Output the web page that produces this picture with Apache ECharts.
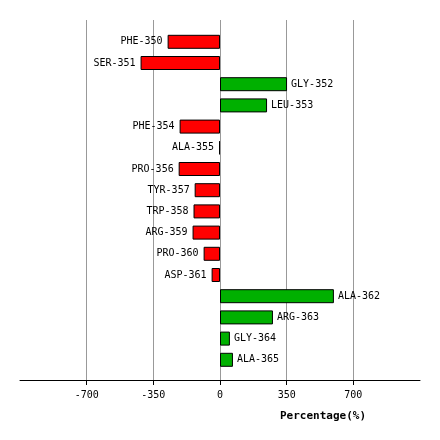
<!DOCTYPE html>
<html><head><meta charset="utf-8">
<script src="https://cdn.jsdelivr.net/npm/echarts@6/dist/echarts.min.js"></script>
<style>html,body{margin:0;padding:0;background:#fff}#c{width:440px;height:440px}</style>
</head><body><div id="c"></div>
<script>
const categories = ["PHE-350","SER-351","GLY-352","LEU-353","PHE-354","ALA-355","PRO-356","TYR-357","TRP-358","ARG-359","PRO-360","ASP-361","ALA-362","ARG-363","GLY-364","ALA-365"];
const values = [-275,-417,352,247,-212,-5,-217,-133,-139,-144,-86,-44,598,278,52,68];
const tickValues = [-700,-350,0,350,700];
const axisTitle = "Percentage(%)";

const FONT = "DejaVu Sans Mono";
const chart = echarts.init(document.getElementById('c'), null, {renderer:'canvas'});
const data = values.map((v,i)=>({
  value: v,
  itemStyle: {color: v < 0 ? '#ff0000' : '#00b000'},
  label: {position: v < 0 ? 'left' : 'right', distance: v < 0 ? 5 : 4}
}));
chart.setOption({
  animation:false,
  backgroundColor:'#fff',
  title:{text:axisTitle, left:275, top:406, textStyle:{fontFamily:FONT, fontSize:11, fontWeight:'bold', color:'#000'}},
  grid:[
    {left:20, right:20, top:20, bottom:60},
    {left:20, right:20, top:31.2, bottom:69.6}
  ],
  xAxis:[
    {gridIndex:0, type:'value', min:-1050, max:1050, interval:350,
     axisLine:{show:true, lineStyle:{color:'#000', width:1}},
     axisTick:{show:true, length:5, inside:false, customValues:tickValues, lineStyle:{color:'#000'}},
     axisLabel:{customValues:tickValues, fontFamily:FONT, fontSize:10, color:'#000', margin:10},
     splitLine:{show:true, lineStyle:{color:'#999', width:1}}},
    {gridIndex:1, type:'value', min:-1050, max:1050, show:false, splitLine:{show:false}}
  ],
  yAxis:[
    {gridIndex:0, type:'value', show:false, splitLine:{show:false}},
    {gridIndex:1, type:'category', data:categories, inverse:true, show:false}
  ],
  series:[{
    type:'bar', xAxisIndex:1, yAxisIndex:1, barWidth:14, data:data,
    itemStyle:{borderColor:'#000', borderWidth:1},
    label:{show:true, formatter:p=>categories[p.dataIndex], fontFamily:FONT, fontSize:10, color:'#000'}
  }]
});
</script></body></html>
